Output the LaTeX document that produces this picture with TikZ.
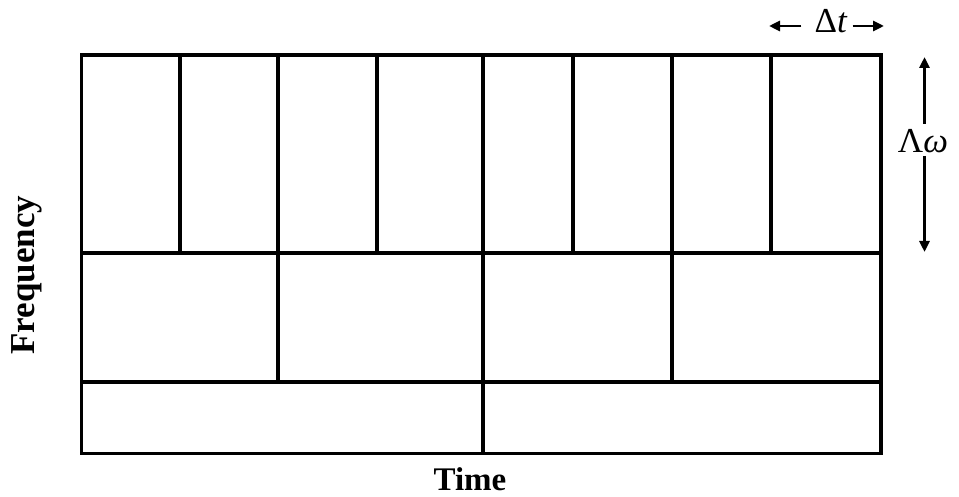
\documentclass[tikz,border=0pt]{standalone}
\usepackage{fontspec}
\setmainfont{Liberation Serif}
\usetikzlibrary{arrows.meta}

\begin{document}
\begin{tikzpicture}[
    x=1pt, y=-1pt,
    gridline/.style={line width=3.8pt, line cap=rect},
    arr/.style={-{Triangle[length=11pt, width=10pt]}, line width=2.8pt},
    axislbl/.style={font=\fontsize{33}{33}\selectfont\bfseries, inner sep=0pt},
    stepsize/.style={inner sep=0pt, font=\fontsize{35}{35}\selectfont},
]
\useasboundingbox (0,0) rectangle (959,497);

% Outer frame
\draw[gridline] (81.5,55) rectangle (881,453.5);

% Band borders
\draw[gridline] (81.5,253) -- (881,253);
\draw[gridline] (81.5,382) -- (881,382);

% Top band: eight cells
\foreach \x in {180,278,377,483,573,672,771}
    \draw[gridline] (\x,55) -- (\x,253);

% Middle band: four cells
\foreach \x in {278,483,672}
    \draw[gridline] (\x,253) -- (\x,382);

% Bottom band: two cells
\draw[gridline] (483,382) -- (483,453.5);

% Axis labels
\node[axislbl, rotate=90, font=\fontsize{35}{35}\selectfont\bfseries] (freq) at (27,275) {Frequency};
\node[axislbl] (time) at (470,479) {Time};

% Time step
\node[stepsize] (dt) at (831,21) {Δ\textit{t}};
\coordinate (dtl) at (769,26);
\coordinate (dtr) at (884,26);
\draw[arr] ([xshift=-13pt]dt.west |- dtl) -- (dtl);
\draw[arr] ([xshift=5pt]dt.east |- dtr) -- (dtr);

% Frequency step
\node[stepsize] (dw) at (923,141) {Λ\textit{ω}};
\coordinate (dwt) at (924.5,57);
\coordinate (dwb) at (924.5,252);
\draw[arr] (924.5,124) -- (dwt);
\draw[arr] (924.5,156) -- (dwb);

\end{tikzpicture}
\end{document}
